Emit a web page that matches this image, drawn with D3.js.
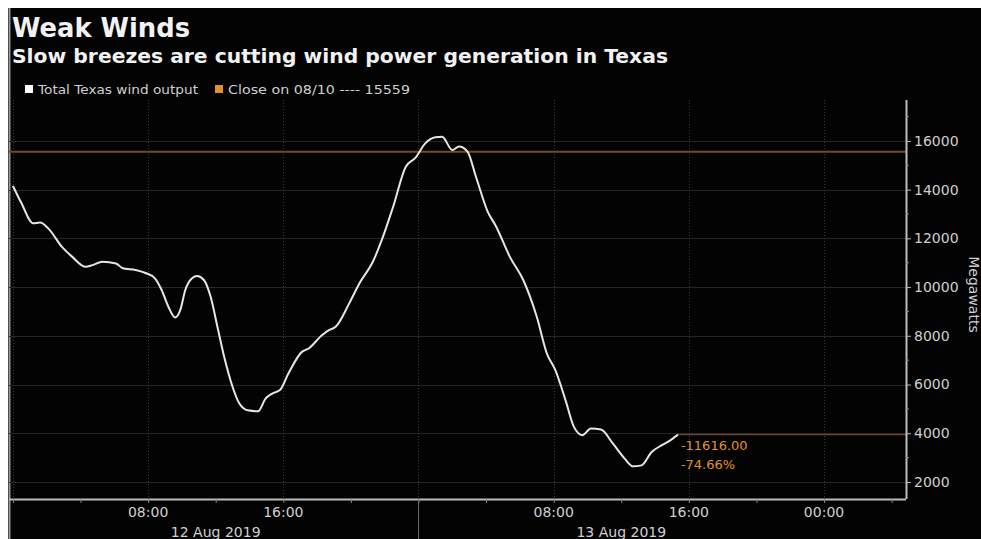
<!DOCTYPE html>
<html>
<head>
<meta charset="utf-8">
<script src="https://cdn.jsdelivr.net/npm/d3@7/dist/d3.min.js"></script>
<style>
  html, body { margin: 0; padding: 0; background: #fff; }
  svg { display: block; }
</style>
</head>
<body>
<script>
'use strict';

// values (ERCOT wind output, megawatts)
var times = [
  "2019-08-12 00:00", "2019-08-12 00:30", "2019-08-12 01:12", "2019-08-12 01:36", "2019-08-12 02:06",
  "2019-08-12 02:54", "2019-08-12 03:30", "2019-08-12 04:18", "2019-08-12 04:42", "2019-08-12 05:18",
  "2019-08-12 06:06", "2019-08-12 06:30", "2019-08-12 07:15", "2019-08-12 07:48", "2019-08-12 08:24",
  "2019-08-12 08:48", "2019-08-12 09:12", "2019-08-12 09:36", "2019-08-12 09:54", "2019-08-12 10:12",
  "2019-08-12 10:36", "2019-08-12 10:54", "2019-08-12 11:18", "2019-08-12 11:42", "2019-08-12 12:06",
  "2019-08-12 12:30", "2019-08-12 13:00", "2019-08-12 13:24", "2019-08-12 13:54", "2019-08-12 14:30",
  "2019-08-12 14:57", "2019-08-12 15:21", "2019-08-12 15:48", "2019-08-12 16:18", "2019-08-12 17:06",
  "2019-08-12 17:30", "2019-08-12 18:18", "2019-08-12 18:42", "2019-08-12 19:06", "2019-08-12 19:54",
  "2019-08-12 20:30", "2019-08-12 21:18", "2019-08-12 21:54", "2019-08-12 22:30", "2019-08-12 23:15",
  "2019-08-12 23:48", "2019-08-13 00:24", "2019-08-13 01:00", "2019-08-13 01:24", "2019-08-13 02:00",
  "2019-08-13 02:24", "2019-08-13 02:54", "2019-08-13 03:24", "2019-08-13 04:06", "2019-08-13 04:36",
  "2019-08-13 05:24", "2019-08-13 06:12", "2019-08-13 07:00", "2019-08-13 07:36", "2019-08-13 08:06",
  "2019-08-13 08:42", "2019-08-13 09:12", "2019-08-13 09:42", "2019-08-13 10:12", "2019-08-13 10:48",
  "2019-08-13 11:30", "2019-08-13 12:12", "2019-08-13 12:42", "2019-08-13 13:12", "2019-08-13 13:48",
  "2019-08-13 14:24", "2019-08-13 14:54", "2019-08-13 15:21"
];
var output = [
  14150, 13450, 12620, 12650, 12400,
  11650, 11250, 10830, 10900, 11040,
  10970, 10770, 10700, 10590, 10360,
  9880, 9190, 8750, 9050, 9880,
  10360, 10450, 10290, 9600, 8370,
  7140, 5900, 5220, 4940, 4900,
  5420, 5630, 5770, 6450, 7340,
  7480, 8030, 8230, 8370, 9330,
  10150, 11040, 12070, 13300, 14940,
  15290, 15900, 16150, 16170, 15630,
  15770, 15560, 14530, 13090, 12480,
  11250, 10290, 8780, 7270, 6590,
  5360, 4260, 3920, 4190, 4150,
  3580, 2960, 2640, 2680, 3230,
  3510, 3710, 3943
];
var closeValue = 15559;
var yTicks = [2000, 4000, 6000, 8000, 10000, 12000, 14000, 16000];

var title = "Weak Winds",
    subtitle = "Slow breezes are cutting wind power generation in Texas",
    seriesName = "Total Texas wind output",
    closeName = "Close on 08/10",
    unitLabel = "Megawatts";

// layout
var width = 981,
    height = 539,
    plotLeft = 9,
    plotRight = 906,
    plotTop = 100,
    plotBottom = 499,
    font = "'DejaVu Sans', sans-serif",
    orange = "#e0922e";

var parse = d3.timeParse("%Y-%m-%d %H:%M");
var data = times.map(function (t, i) { return {t: parse(t), v: output[i]}; });

var x = d3.scaleTime()
    .domain([parse("2019-08-11 23:46"), parse("2019-08-14 04:51")])
    .range([plotLeft, plotRight]);

var y = d3.scaleLinear()
    .domain([1300, 17680])
    .range([plotBottom, plotTop]);

var svg = d3.select("body").append("svg")
    .attr("width", width)
    .attr("height", height);

// black panel with a thin white frame top/left
svg.append("rect")
    .attr("x", 0).attr("y", 0)
    .attr("width", width).attr("height", height)
    .attr("fill", "#fff");
svg.append("rect")
    .attr("x", 8).attr("y", 8)
    .attr("width", width - 8).attr("height", height - 8)
    .attr("fill", "#030303");
svg.append("line")
    .attr("x1", 9.5).attr("x2", 9.5)
    .attr("y1", 8).attr("y2", height)
    .attr("stroke", "#9a9a9a")
    .attr("stroke-width", 2);

// titles
svg.append("text")
    .attr("x", 12).attr("y", 37)
    .attr("font-family", font)
    .attr("font-weight", "bold")
    .attr("font-size", 26)
    .attr("fill", "#f2f2f2")
    .attr("textLength", 178)
    .attr("lengthAdjust", "spacingAndGlyphs")
    .text(title);

svg.append("text")
    .attr("x", 12).attr("y", 63)
    .attr("font-family", font)
    .attr("font-weight", "bold")
    .attr("font-size", 19)
    .attr("fill", "#f2f2f2")
    .attr("textLength", 656)
    .attr("lengthAdjust", "spacingAndGlyphs")
    .text(subtitle);

// legend
var legend = svg.append("g").attr("font-family", font).attr("font-size", 12);
legend.append("rect")
    .attr("x", 25).attr("y", 85).attr("width", 8).attr("height", 8)
    .attr("fill", "#fff");
legend.append("text")
    .attr("x", 38).attr("y", 94)
    .attr("fill", "#cfcfcf")
    .attr("textLength", 160)
    .attr("lengthAdjust", "spacingAndGlyphs")
    .text(seriesName);
legend.append("rect")
    .attr("x", 215).attr("y", 85).attr("width", 8).attr("height", 8)
    .attr("fill", orange);
legend.append("text")
    .attr("x", 228).attr("y", 94)
    .attr("fill", "#cfcfcf")
    .attr("textLength", 182)
    .attr("lengthAdjust", "spacingAndGlyphs")
    .text(closeName + " ---- " + closeValue);

// horizontal grid
svg.append("g")
    .selectAll("line")
    .data(yTicks)
    .enter().append("line")
    .attr("x1", plotLeft).attr("x2", plotRight)
    .attr("y1", function (d) { return Math.round(y(d)) + .5; })
    .attr("y2", function (d) { return Math.round(y(d)) + .5; })
    .attr("stroke", "#262626");

// vertical dotted grid every 8 hours
var gridTimes = d3.timeHour.every(8).range(x.domain()[0], x.domain()[1]);
svg.append("g")
    .selectAll("line")
    .data(gridTimes)
    .enter().append("line")
    .attr("x1", function (d) { return Math.round(x(d)) + .5; })
    .attr("x2", function (d) { return Math.round(x(d)) + .5; })
    .attr("y1", plotTop).attr("y2", plotBottom)
    .attr("stroke", "#3a3a3a")
    .attr("stroke-dasharray", "1,2");

// close reference line
svg.append("line")
    .attr("x1", plotLeft).attr("x2", plotRight)
    .attr("y1", y(closeValue)).attr("y2", y(closeValue))
    .attr("stroke", "#7a4a22")
    .attr("stroke-width", 2);

// last value marker line
var last = data[data.length - 1];
svg.append("line")
    .attr("x1", x(last.t)).attr("x2", plotRight)
    .attr("y1", y(last.v)).attr("y2", y(last.v))
    .attr("stroke", "#6a4420")
    .attr("stroke-width", 1.5);

// series
var line = d3.line()
    .x(function (d) { return x(d.t); })
    .y(function (d) { return y(d.v); })
    .curve(d3.curveMonotoneX);

svg.append("path")
    .datum(data)
    .attr("d", line)
    .attr("fill", "none")
    .attr("stroke", "#e6e6e6")
    .attr("stroke-width", 2);

// change vs close
var change = last.v - closeValue,
    pct = change / closeValue * 100;
var changeG = svg.append("g")
    .attr("font-family", font)
    .attr("font-size", 13)
    .attr("fill", orange);
changeG.append("text")
    .attr("x", x(last.t) + 3).attr("y", 450)
    .text(d3.format(".2f")(change).replace("−", "-"));
changeG.append("text")
    .attr("x", x(last.t) + 3).attr("y", 469)
    .text(d3.format(".2f")(pct).replace("−", "-") + "%");

// right axis
var yAxis = d3.axisRight(y)
    .tickValues(yTicks)
    .tickSize(5)
    .tickPadding(3)
    .tickFormat(d3.format("d"));

var yG = svg.append("g")
    .attr("transform", "translate(" + plotRight + ",0)")
    .call(yAxis);
yG.select(".domain")
    .attr("d", "M0.5," + plotTop + "V" + plotBottom)
    .attr("stroke", "#bdbdbd")
    .attr("stroke-width", 2);
yG.selectAll(".tick line").attr("stroke", "#bdbdbd");
yG.selectAll(".tick text")
    .attr("fill", "#cfcfcf")
    .attr("font-family", font)
    .attr("font-size", 14);

// minor ticks every 1000
svg.append("g")
    .selectAll("line")
    .data(d3.range(2000, 17001, 1000).filter(function (d) { return d % 2000; }))
    .enter().append("line")
    .attr("x1", plotRight).attr("x2", plotRight + 3)
    .attr("y1", function (d) { return y(d); })
    .attr("y2", function (d) { return y(d); })
    .attr("stroke", "#8a8a8a");

svg.append("text")
    .attr("transform", "translate(969," + ((plotTop + plotBottom) / 2 - 5) + ") rotate(90)")
    .attr("text-anchor", "middle")
    .attr("font-family", font)
    .attr("font-size", 14)
    .attr("fill", "#cfcfcf")
    .text(unitLabel);

// bottom axis: ticks every 4h, labels every 8h, dates at noon
var xAxis = d3.axisBottom(x)
    .ticks(d3.timeHour.every(4))
    .tickSize(4)
    .tickFormat("");

var xG = svg.append("g")
    .attr("transform", "translate(0," + plotBottom + ")")
    .call(xAxis);
xG.select(".domain")
    .attr("d", "M" + plotLeft + ",0.5H" + plotRight)
    .attr("stroke", "#bdbdbd")
    .attr("stroke-width", 2);
xG.selectAll(".tick line").attr("stroke", "#8a8a8a");

var dataDays = d3.timeDay.range(d3.timeDay.floor(data[0].t), data[data.length - 1].t);
var isDataMidnight = function (d) {
  return dataDays.some(function (day) { return +day === +d; });
};

svg.append("g")
    .selectAll("text")
    .data(gridTimes.filter(function (d) { return !isDataMidnight(d); }))
    .enter().append("text")
    .attr("x", function (d) { return x(d); })
    .attr("y", 517)
    .attr("text-anchor", "middle")
    .attr("font-family", font)
    .attr("font-size", 14)
    .attr("fill", "#cfcfcf")
    .text(d3.timeFormat("%H:%M"));

svg.append("g")
    .selectAll("text")
    .data(dataDays)
    .enter().append("text")
    .attr("x", function (d) { return x(d3.timeHour.offset(d, 12)); })
    .attr("y", 537)
    .attr("text-anchor", "middle")
    .attr("font-family", font)
    .attr("font-size", 14)
    .attr("fill", "#cfcfcf")
    .text(d3.timeFormat("%d %b %Y"));

// day separators
svg.append("g")
    .selectAll("line")
    .data(dataDays.slice(1))
    .enter().append("line")
    .attr("x1", function (d) { return Math.round(x(d)) + .5; })
    .attr("x2", function (d) { return Math.round(x(d)) + .5; })
    .attr("y1", plotBottom).attr("y2", height)
    .attr("stroke", "#6a6a6a");
</script>
</body>
</html>
